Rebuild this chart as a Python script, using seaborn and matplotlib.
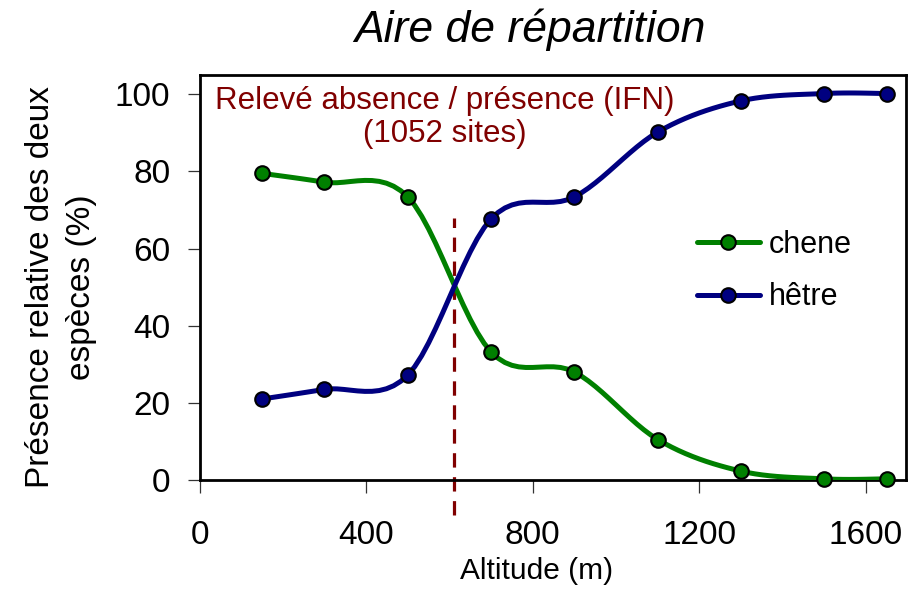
import numpy as np
import pandas as pd
import matplotlib
matplotlib.use("Agg")
import matplotlib.pyplot as plt
from matplotlib.lines import Line2D
import seaborn as sns

# data
altitude = [150, 300, 500, 700, 900, 1100, 1300, 1500, 1650]
chene = [79.5, 77.2, 73.4, 33.2, 28.0, 10.5, 2.3, 0.3, 0.3]
hetre = [21.0, 23.5, 27.2, 67.7, 73.4, 90.2, 98.3, 100.2, 100.2]
seuil = 610  # altitude of the dashed line

sns.set_theme(style="white")
plt.rcParams['font.family'] = ['Liberation Sans', 'DejaVu Sans']
plt.rcParams['text.color'] = 'black'

GREEN = '#008000'
NAVY = '#000080'
DARKRED = '#800000'


def smooth(x, y, n=12):
    # Excel-like smoothed line: cubic bezier with Catmull-Rom tangents
    x = np.asarray(x, float)
    y = np.asarray(y, float)
    px = np.concatenate([[x[0]], x, [x[-1]]])
    py = np.concatenate([[y[0]], y, [y[-1]]])
    t = np.linspace(0, 1, n, endpoint=False)
    sx, sy = [], []
    for i in range(1, len(px) - 2):
        p0 = np.array([px[i], py[i]])
        p3 = np.array([px[i + 1], py[i + 1]])
        c1 = p0 + (p3 - np.array([px[i - 1], py[i - 1]])) / 6
        c2 = p3 - (np.array([px[i + 2], py[i + 2]]) - p0) / 6
        for tt in t:
            b = ((1 - tt) ** 3) * p0 + 3 * ((1 - tt) ** 2) * tt * c1 + 3 * (1 - tt) * tt ** 2 * c2 + tt ** 3 * p3
            sx.append(b[0])
            sy.append(b[1])
    sx.append(x[-1])
    sy.append(y[-1])
    return np.array(sx), np.array(sy)


fig = plt.figure(figsize=(9.14, 5.9), dpi=100)
ax = fig.add_axes([199.5 / 914, 110 / 590, 706.5 / 914, 405 / 590])

df = pd.DataFrame({'altitude': altitude, 'chene': chene, 'hetre': hetre})

for col, color in [('chene', GREEN), ('hetre', NAVY)]:
    sx, sy = smooth(df['altitude'], df[col])
    sns.lineplot(x=sx, y=sy, color=color, lw=3.6, sort=False, ax=ax, zorder=3)
    sns.scatterplot(x=df['altitude'], y=df[col], color=color, s=110,
                    edgecolor='black', linewidth=1.5, ax=ax, zorder=4, clip_on=False)

# dashed threshold line
ax.plot([seuil, seuil], [-9, 68], color=DARKRED, lw=2.3, ls=(0, (4.5, 3)),
        clip_on=False, zorder=2)

ax.set_xlim(0, 1696)
ax.set_ylim(0, 105)
ax.set_xlabel('')
ax.set_ylabel('')
ax.set_xticks([0, 400, 800, 1200, 1600])
ax.set_yticks([0, 20, 40, 60, 80, 100])
ax.tick_params(axis='both', direction='out', length=9, width=0.9, color='#333333',
               labelsize=24, labelcolor='black', bottom=True, left=True)
ax.tick_params(axis='x', pad=20)
ax.tick_params(axis='y', pad=12)
for s in ax.spines.values():
    s.set_color('black')
    s.set_linewidth(2)

ax.text(589, 94, 'Relevé absence / présence (IFN)\n(1052 sites)', color=DARKRED,
        fontsize=22.5, ha='center', va='center', linespacing=1.1)

handles = [Line2D([], [], color=GREEN, lw=3.6, marker='o', markersize=10.5,
                  markerfacecolor=GREEN, markeredgecolor='black', markeredgewidth=1.5),
           Line2D([], [], color=NAVY, lw=3.6, marker='o', markersize=10.5,
                  markerfacecolor=NAVY, markeredgecolor='black', markeredgewidth=1.5)]
ax.legend(handles, ['chene', 'hêtre'], loc='center left',
          bbox_to_anchor=(697 / 914, 1 - 271 / 590), bbox_transform=fig.transFigure,
          frameon=False, fontsize=22, handlelength=2.05, handletextpad=0.3,
          labelspacing=0.75, borderpad=0, borderaxespad=0)

fig.text(530 / 914, 1 - 42 / 590, 'Aire de répartition', fontsize=32, style='italic',
         ha='center', va='baseline')
fig.text(537 / 914, 1 - 579 / 590, 'Altitude (m)', fontsize=21.5, ha='center', va='baseline')
fig.text(61 / 914, 1 - 287 / 590, 'Présence relative des deux\nespèces (%)', fontsize=24,
         rotation=90, ha='center', va='center', linespacing=1.45)

fig.savefig('out.png', dpi=100, facecolor='white')
